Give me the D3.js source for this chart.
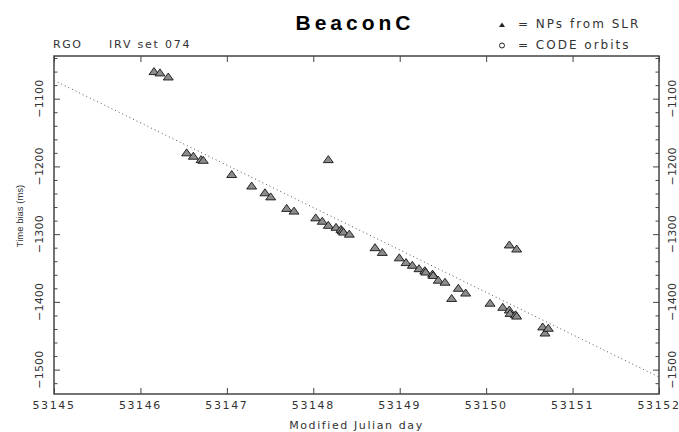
<!DOCTYPE html>
<html>
<head>
<meta charset="utf-8">
<script src="https://d3js.org/d3.v7.min.js"></script>
<style>
  body { margin: 0; background: #fff; }
  svg { display: block; }
  text { font-family: "DejaVu Sans", sans-serif; fill: #333; }
  .lbl { font-size: 11px; letter-spacing: 1px; }
  .leg { font-size: 12px; letter-spacing: 2px; }
  .axis path, .axis line { stroke: #444; }
</style>
</head>
<body>
<script>
  // data
  var mjd = [53146.157, 53146.226, 53146.322, 53146.535, 53146.612, 53146.701, 53146.727,
    53147.056, 53147.287, 53148.174, 53147.441, 53147.507, 53147.692, 53147.777,
    53148.028, 53148.104, 53148.174, 53148.263, 53148.320, 53148.336, 53148.350, 53148.417,
    53148.714, 53148.798, 53148.995, 53149.073, 53149.146, 53149.223, 53149.290, 53149.301,
    53149.380, 53149.388, 53149.446, 53149.524, 53149.601, 53149.678, 53149.763,
    53150.045, 53150.192, 53150.268, 53150.276, 53150.340, 53150.353, 53150.268, 53150.353,
    53150.654, 53150.681, 53150.719];
  var bias = [-1060, -1062, -1068, -1180, -1185, -1190, -1191,
    -1212, -1229, -1190, -1239, -1245, -1262, -1266,
    -1276, -1281, -1287, -1290, -1293, -1295, -1297, -1300,
    -1320, -1327, -1335, -1342, -1346, -1351, -1354, -1356,
    -1359, -1361, -1368, -1371, -1395, -1380, -1387,
    -1402, -1408, -1412, -1417, -1419, -1421, -1316, -1322,
    -1437, -1446, -1439];
  // dotted fit line (end points)
  var fitMjd = [53145, 53152];
  var fitBias = [-1073, -1511];
  var xTicks = [53145, 53146, 53147, 53148, 53149, 53150, 53151, 53152];
  var yMajor = [-1500, -1400, -1300, -1200, -1100];
  var yMinor = d3.range(-1520, -1030, 20).filter(function(v) { return v % 100 !== 0; });

  var width = 679, height = 432;
  var mLeft = 54, mRight = 659, mTop = 56, mBottom = 394;

  var svg = d3.select('body').append('svg')
    .attr('width', width).attr('height', height);

  var x = d3.scaleLinear().domain([53145, 53152]).range([mLeft, mRight]);
  var y = d3.scaleLinear().domain([-1536, -1037]).range([mBottom, mTop]);

  // frame
  svg.append('rect')
    .attr('x', mLeft).attr('y', mTop)
    .attr('width', mRight - mLeft).attr('height', mBottom - mTop)
    .attr('fill', 'none').attr('stroke', '#444').attr('stroke-width', 1.5);

  // ticks (inward)
  function ticks(axis, tr) {
    svg.append('g').attr('class', 'axis').attr('transform', tr).call(axis)
      .call(function(g) { g.select('.domain').remove(); g.selectAll('text').remove(); });
  }
  ticks(d3.axisBottom(x).tickValues(xTicks).tickSize(-6), 'translate(0,' + mBottom + ')');
  ticks(d3.axisTop(x).tickValues(xTicks).tickSize(-6), 'translate(0,' + mTop + ')');
  ticks(d3.axisLeft(y).tickValues(yMajor).tickSize(-6), 'translate(' + mLeft + ',0)');
  ticks(d3.axisLeft(y).tickValues(yMinor).tickSize(-3.5), 'translate(' + mLeft + ',0)');
  ticks(d3.axisRight(y).tickValues(yMajor).tickSize(-6), 'translate(' + mRight + ',0)');
  ticks(d3.axisRight(y).tickValues(yMinor).tickSize(-3.5), 'translate(' + mRight + ',0)');

  // x tick labels
  svg.selectAll('.xl').data(xTicks).enter().append('text')
    .attr('class', 'lbl')
    .attr('x', function(d) { return x(d); })
    .attr('y', 409)
    .attr('text-anchor', 'middle')
    .style('letter-spacing', '1.6px')
    .text(function(d) { return d; });

  // y tick labels, rotated, both sides
  [39, 672].forEach(function(px) {
    svg.selectAll(null).data(yMajor).enter().append('text')
      .attr('class', 'lbl')
      .attr('transform', function(d) { return 'translate(' + (px + 4) + ',' + y(d) + ') rotate(-90)'; })
      .attr('text-anchor', 'middle')
      .style('letter-spacing', '0.2px')
      .text(function(d) { return '\u2212' + Math.abs(d); });
  });

  // axis titles
  svg.append('text').attr('class', 'lbl')
    .attr('x', (mLeft + mRight) / 2).attr('y', 429)
    .attr('text-anchor', 'middle')
    .style('letter-spacing', '1.6px')
    .text('Modified Julian day');
  svg.append('text')
    .attr('transform', 'translate(23,216) rotate(-90)')
    .attr('text-anchor', 'middle')
    .style('font-family', '"Liberation Sans", sans-serif')
    .style('font-size', '9.5px')
    .text('Time bias (ms)');

  // title and notes
  svg.append('text')
    .attr('x', 355).attr('y', 30)
    .attr('text-anchor', 'middle')
    .style('font-family', '"Liberation Sans", sans-serif')
    .style('font-weight', 'bold').style('font-size', '21px')
    .style('letter-spacing', '4px').style('fill', '#000')
    .text('BeaconC');
  svg.append('text').attr('class', 'lbl')
    .attr('x', 53).attr('y', 48)
    .style('letter-spacing', '1.5px')
    .text('RGO');
  svg.append('text').attr('class', 'lbl')
    .attr('x', 109).attr('y', 48)
    .style('letter-spacing', '1.8px')
    .text('IRV set 074');

  // legend
  svg.append('path')
    .attr('d', 'M502,22.5L505,27L499,27Z')
    .attr('fill', '#222');
  svg.append('text').attr('class', 'leg')
    .attr('x', 518).attr('y', 28)
    .text('= NPs from SLR');
  svg.append('circle')
    .attr('cx', 502).attr('cy', 45.5).attr('r', 2.5)
    .attr('fill', 'none').attr('stroke', '#222');
  svg.append('text').attr('class', 'leg')
    .attr('x', 518).attr('y', 49)
    .text('= CODE orbits');

  // dotted fit line
  var line = d3.line()
    .x(function(d) { return x(d[0]); })
    .y(function(d) { return y(d[1]); });
  svg.append('path')
    .datum(d3.zip(fitMjd, fitBias))
    .attr('d', line)
    .attr('fill', 'none')
    .attr('stroke', '#555')
    .attr('stroke-width', 1)
    .attr('stroke-dasharray', '1,3');

  // triangles
  var tri = 'M0,-4L5,3L-5,3Z';
  svg.selectAll('.pt').data(d3.zip(mjd, bias)).enter().append('path')
    .attr('class', 'pt')
    .attr('d', tri)
    .attr('transform', function(d) { return 'translate(' + x(d[0]) + ',' + y(d[1]) + ')'; })
    .attr('fill', '#8c8c8c')
    .attr('stroke', '#000')
    .attr('stroke-width', 0.8);
</script>
</body>
</html>
